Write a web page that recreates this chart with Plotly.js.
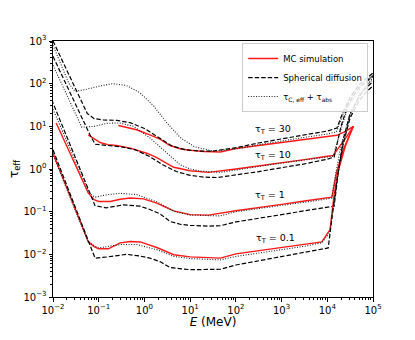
<!DOCTYPE html>
<html>
<head>
<meta charset="utf-8">
<script src="https://cdn.plot.ly/plotly-3.0.1.min.js"></script>
<style>
  html, body { margin: 0; padding: 0; background: #fff; }
  #chart { width: 415px; height: 340px; }
</style>
</head>
<body>
<div id="chart"></div>
<script>
// Values, stored as log10(E / MeV) and log10(tau_eff)

// tau_T = 30
const r30E = [-0.57, -0.3, -0.17, 0.12, 0.34, 0.56, 0.8, 1.0, 1.3, 1.66, 2.0, 2.5, 3.0, 3.5, 4.0, 4.21, 4.4, 4.57];
const r30T = [1.02, 0.95, 0.92, 0.80, 0.70, 0.55, 0.47, 0.44, 0.41, 0.40, 0.48, 0.55, 0.62, 0.69, 0.76, 0.79, 0.88, 1.0];
const d30E = [-2.0, -1.8, -1.6, -1.4, -1.25, -1.1, -0.9, -0.6, -0.3, 0.0, 0.3, 0.6, 0.9, 1.2, 1.5, 2.0, 2.5, 3.0, 3.5, 4.0, 4.21, 4.35, 4.5, 4.7, 4.85, 5.0];
const d30T = [3.0, 2.55, 2.1, 1.62, 1.3, 1.18, 1.15, 1.14, 1.08, 0.95, 0.74, 0.54, 0.45, 0.42, 0.42, 0.5, 0.61, 0.71, 0.8, 0.89, 0.96, 1.35, 1.68, 1.98, 2.12, 2.25];
const t30E = [-2.0, -1.8, -1.65, -1.52, -1.3, -1.0, -0.7, -0.4, -0.1, 0.2, 0.5, 0.8, 1.1, 1.5, 2.0, 2.5, 3.0, 3.5, 4.0, 4.2, 4.35, 4.55, 4.75, 5.0];
const t30T = [2.9, 2.4, 2.0, 1.82, 1.86, 1.94, 2.0, 1.96, 1.79, 1.48, 1.07, 0.72, 0.52, 0.42, 0.47, 0.57, 0.66, 0.74, 0.82, 0.87, 1.3, 1.75, 2.0, 2.2];

// tau_T = 10
const r10E = [-1.23, -1.1, -0.97, -0.8, -0.61, -0.31, 0.05, 0.25, 0.42, 0.64, 1.0, 1.4, 2.0, 2.5, 3.0, 3.5, 4.0, 4.13, 4.25, 4.4, 4.57];
const r10T = [0.80, 0.70, 0.62, 0.57, 0.55, 0.49, 0.37, 0.28, 0.18, 0.04, -0.04, -0.08, 0.0, 0.07, 0.15, 0.22, 0.30, 0.32, 0.5, 0.72, 1.0];
const d10E = [-2.0, -1.7, -1.4, -1.2, -1.08, -0.83, -0.5, -0.2, 0.1, 0.4, 0.7, 1.0, 1.3, 1.6, 2.0, 2.5, 3.0, 3.5, 4.0, 4.15, 4.3, 4.45, 4.65, 4.85, 5.0];
const d10T = [2.64, 1.95, 1.28, 0.82, 0.58, 0.55, 0.52, 0.45, 0.3, 0.1, -0.06, -0.15, -0.19, -0.2, -0.14, -0.06, 0.03, 0.12, 0.23, 0.28, 1.0, 1.5, 1.85, 2.05, 2.17];
const t10E = [-2.0, -1.7, -1.5, -1.37, -1.1, -0.82, -0.55, -0.24, 0.12, 0.42, 0.78, 1.0, 1.22, 1.66, 2.0, 2.5, 3.0, 3.5, 4.0, 4.13, 4.25, 4.45, 4.7, 5.0];
const t10T = [2.43, 1.75, 1.28, 0.98, 1.0, 1.07, 1.08, 1.0, 0.73, 0.45, 0.1, 0.0, -0.05, -0.08, -0.02, 0.06, 0.14, 0.21, 0.28, 0.3, 0.75, 1.45, 1.85, 2.2];

// tau_T = 1
const r1E = [-1.93, -1.75, -1.56, -1.4, -1.23, -1.1, -1.0, -0.75, -0.53, -0.31, -0.02, 0.27, 0.45, 0.64, 1.0, 1.4, 2.0, 2.5, 3.0, 3.5, 4.0, 4.1, 4.2, 4.35, 4.57];
const r1T = [1.08, 0.66, 0.21, -0.18, -0.56, -0.72, -0.76, -0.76, -0.71, -0.68, -0.70, -0.80, -0.89, -0.98, -1.07, -1.08, -0.98, -0.91, -0.83, -0.75, -0.68, -0.66, -0.1, 0.45, 1.0];
const d1E = [-2.03, -1.8, -1.6, -1.4, -1.2, -1.08, -0.83, -0.46, -0.1, 0.12, 0.34, 0.56, 0.8, 1.0, 1.4, 1.66, 2.0, 2.5, 3.0, 3.5, 4.0, 4.15, 4.25, 4.35, 4.5, 4.7, 4.85, 5.0];
const d1T = [1.625, 1.02, 0.5, -0.03, -0.55, -0.86, -0.91, -0.84, -0.87, -0.95, -1.05, -1.23, -1.3, -1.32, -1.34, -1.33, -1.24, -1.16, -1.07, -0.98, -0.9, -0.87, 0.0, 0.7, 1.3, 1.7, 1.9, 2.05];
const t1E = [-2.0, -1.8, -1.6, -1.4, -1.2, -1.08, -0.8, -0.53, -0.17, 0.27, 0.64, 1.0, 1.66, 2.0, 2.5, 3.0, 3.5, 4.0, 4.1, 4.17, 4.3, 4.5, 4.7, 5.0];
const t1T = [1.4, 0.9, 0.4, -0.1, -0.58, -0.66, -0.6, -0.57, -0.60, -0.77, -0.99, -1.08, -1.10, -1.0, -0.93, -0.86, -0.78, -0.70, -0.68, -0.2, 0.55, 1.3, 1.75, 2.15];

// tau_T = 0.1
const r01E = [-2.03, -1.8, -1.6, -1.4, -1.23, -1.1, -1.0, -0.79, -0.53, -0.31, -0.09, 0.27, 0.45, 0.64, 1.0, 1.66, 2.0, 2.5, 3.0, 3.5, 3.88, 4.06, 4.15, 4.25, 4.4, 4.57];
const r01T = [0.45, -0.17, -0.71, -1.24, -1.70, -1.82, -1.87, -1.87, -1.73, -1.70, -1.71, -1.84, -1.93, -2.01, -2.06, -2.09, -1.99, -1.92, -1.84, -1.77, -1.71, -1.42, -0.6, 0.0, 0.55, 1.0];
const d01E = [-2.0, -1.8, -1.6, -1.4, -1.2, -1.08, -0.8, -0.39, -0.1, 0.12, 0.34, 0.56, 1.0, 1.66, 2.0, 2.5, 3.0, 3.5, 4.02, 4.12, 4.22, 4.35, 4.5, 4.7, 4.85, 5.0];
const d01T = [0.45, -0.11, -0.67, -1.23, -1.79, -2.09, -2.06, -2.0, -2.04, -2.09, -2.17, -2.31, -2.36, -2.35, -2.25, -2.15, -2.05, -1.95, -1.85, -1.0, -0.2, 0.6, 1.2, 1.6, 1.8, 1.95];
const t01E = [-2.03, -1.8, -1.6, -1.4, -1.23, -1.0, -0.53, -0.17, 0.27, 0.64, 1.0, 1.66, 2.0, 2.5, 3.0, 3.5, 3.88, 4.05, 4.12, 4.22, 4.35, 4.5, 4.7, 4.85, 5.0];
const t01T = [0.42, -0.2, -0.75, -1.29, -1.72, -1.85, -1.77, -1.77, -1.89, -2.05, -2.1, -2.13, -2.05, -1.97, -1.89, -1.81, -1.73, -1.5, -1.0, -0.2, 0.6, 1.25, 1.7, 1.95, 2.1];

// axis decades and curve labels (log10 coordinates)
const xDecades = [-2, -1, 0, 1, 2, 3, 4, 5];
const yDecades = [-3, -2, -1, 0, 1, 2, 3];
const labelText = ['τ<sub>T</sub> = 30', 'τ<sub>T</sub> = 10', 'τ<sub>T</sub> = 1', 'τ<sub>T</sub> = 0.1'];
const labelE = [2.81, 2.82, 2.75, 2.86];
const labelT = [0.92, 0.32, -0.61, -1.63];

const pow10 = arr => arr.map(v => Math.pow(10, v));
const powLabel = n => '10<sup>' + (n < 0 ? '\u2212' + (-n) : n) + '</sup>';

// minor ticks 2..9 in every decade
function minorVals(decades) {
    const out = [];
    for (let i = 0; i < decades.length - 1; i++) {
        for (let k = 2; k <= 9; k++) out.push(k * Math.pow(10, decades[i]));
    }
    return out;
}

const mcStyle = { color: '#ff1a1a', width: 1.4 };
const sdStyle = { color: '#000000', width: 1.2, dash: '4.5px,2px' };
const tcStyle = { color: '#222222', width: 1.1, dash: '1px,1.6px' };

function curve(e, t, name, line, showlegend) {
    return {
        x: pow10(e), y: pow10(t),
        type: 'scatter', mode: 'lines',
        name: name, line: line,
        showlegend: showlegend, hoverinfo: 'skip'
    };
}

const tcName = 'τ<sub>C, eff</sub> + τ<sub>abs</sub>';
const traces = [
    curve(r30E, r30T, 'MC simulation', mcStyle, true),
    curve(d30E, d30T, 'Spherical diffusion', sdStyle, true),
    curve(t30E, t30T, tcName, tcStyle, true),
    curve(r10E, r10T, 'MC simulation', mcStyle, false),
    curve(d10E, d10T, 'Spherical diffusion', sdStyle, false),
    curve(t10E, t10T, tcName, tcStyle, false),
    curve(r1E, r1T, 'MC simulation', mcStyle, false),
    curve(d1E, d1T, 'Spherical diffusion', sdStyle, false),
    curve(t1E, t1T, tcName, tcStyle, false),
    curve(r01E, r01T, 'MC simulation', mcStyle, false),
    curve(d01E, d01T, 'Spherical diffusion', sdStyle, false),
    curve(t01E, t01T, tcName, tcStyle, false)
];

const annotations = labelText.map((txt, i) => ({
    x: labelE[i], y: labelT[i], xref: 'x', yref: 'y',
    text: txt, showarrow: false,
    font: { size: 9.5, color: '#000' }
}));

function logAxis(decades) {
    return {
        type: 'log',
        range: [decades[0], decades[decades.length - 1]],
        tickmode: 'array',
        tickvals: pow10(decades),
        ticktext: decades.map(powLabel),
        ticks: 'outside',
        ticklen: 3.5,
        tickwidth: 1,
        tickcolor: '#000',
        showline: true,
        linecolor: '#000',
        linewidth: 1,
        mirror: true,
        showgrid: false,
        zeroline: false,
        tickfont: { size: 10, color: '#000' },
        minor: { ticks: 'outside', ticklen: 2, tickcolor: '#000', tickmode: 'array', tickvals: minorVals(decades), showgrid: false }
    };
}

const layout = {
    width: 415,
    height: 340,
    margin: { l: 53, r: 42, t: 41, b: 43 },
    paper_bgcolor: '#fff',
    plot_bgcolor: '#fff',
    font: { family: 'DejaVu Sans, sans-serif', color: '#000' },
    showlegend: true,
    legend: {
        x: 0.985, y: 0.992, xanchor: 'right', yanchor: 'top',
        bgcolor: 'rgba(255,255,255,0.85)',
        bordercolor: '#cccccc', borderwidth: 1,
        font: { size: 8.5 },
        tracegroupgap: 0
    },
    xaxis: Object.assign(logAxis(xDecades), {
        title: { text: '<i>E</i> (MeV)', font: { size: 12 }, standoff: 2 }
    }),
    yaxis: Object.assign(logAxis(yDecades), {
        title: { text: 'τ<sub>eff</sub>', font: { size: 12 }, standoff: 2 }
    }),
    annotations: annotations
};

Plotly.newPlot('chart', traces, layout, { displayModeBar: false, staticPlot: true });
</script>
</body>
</html>
